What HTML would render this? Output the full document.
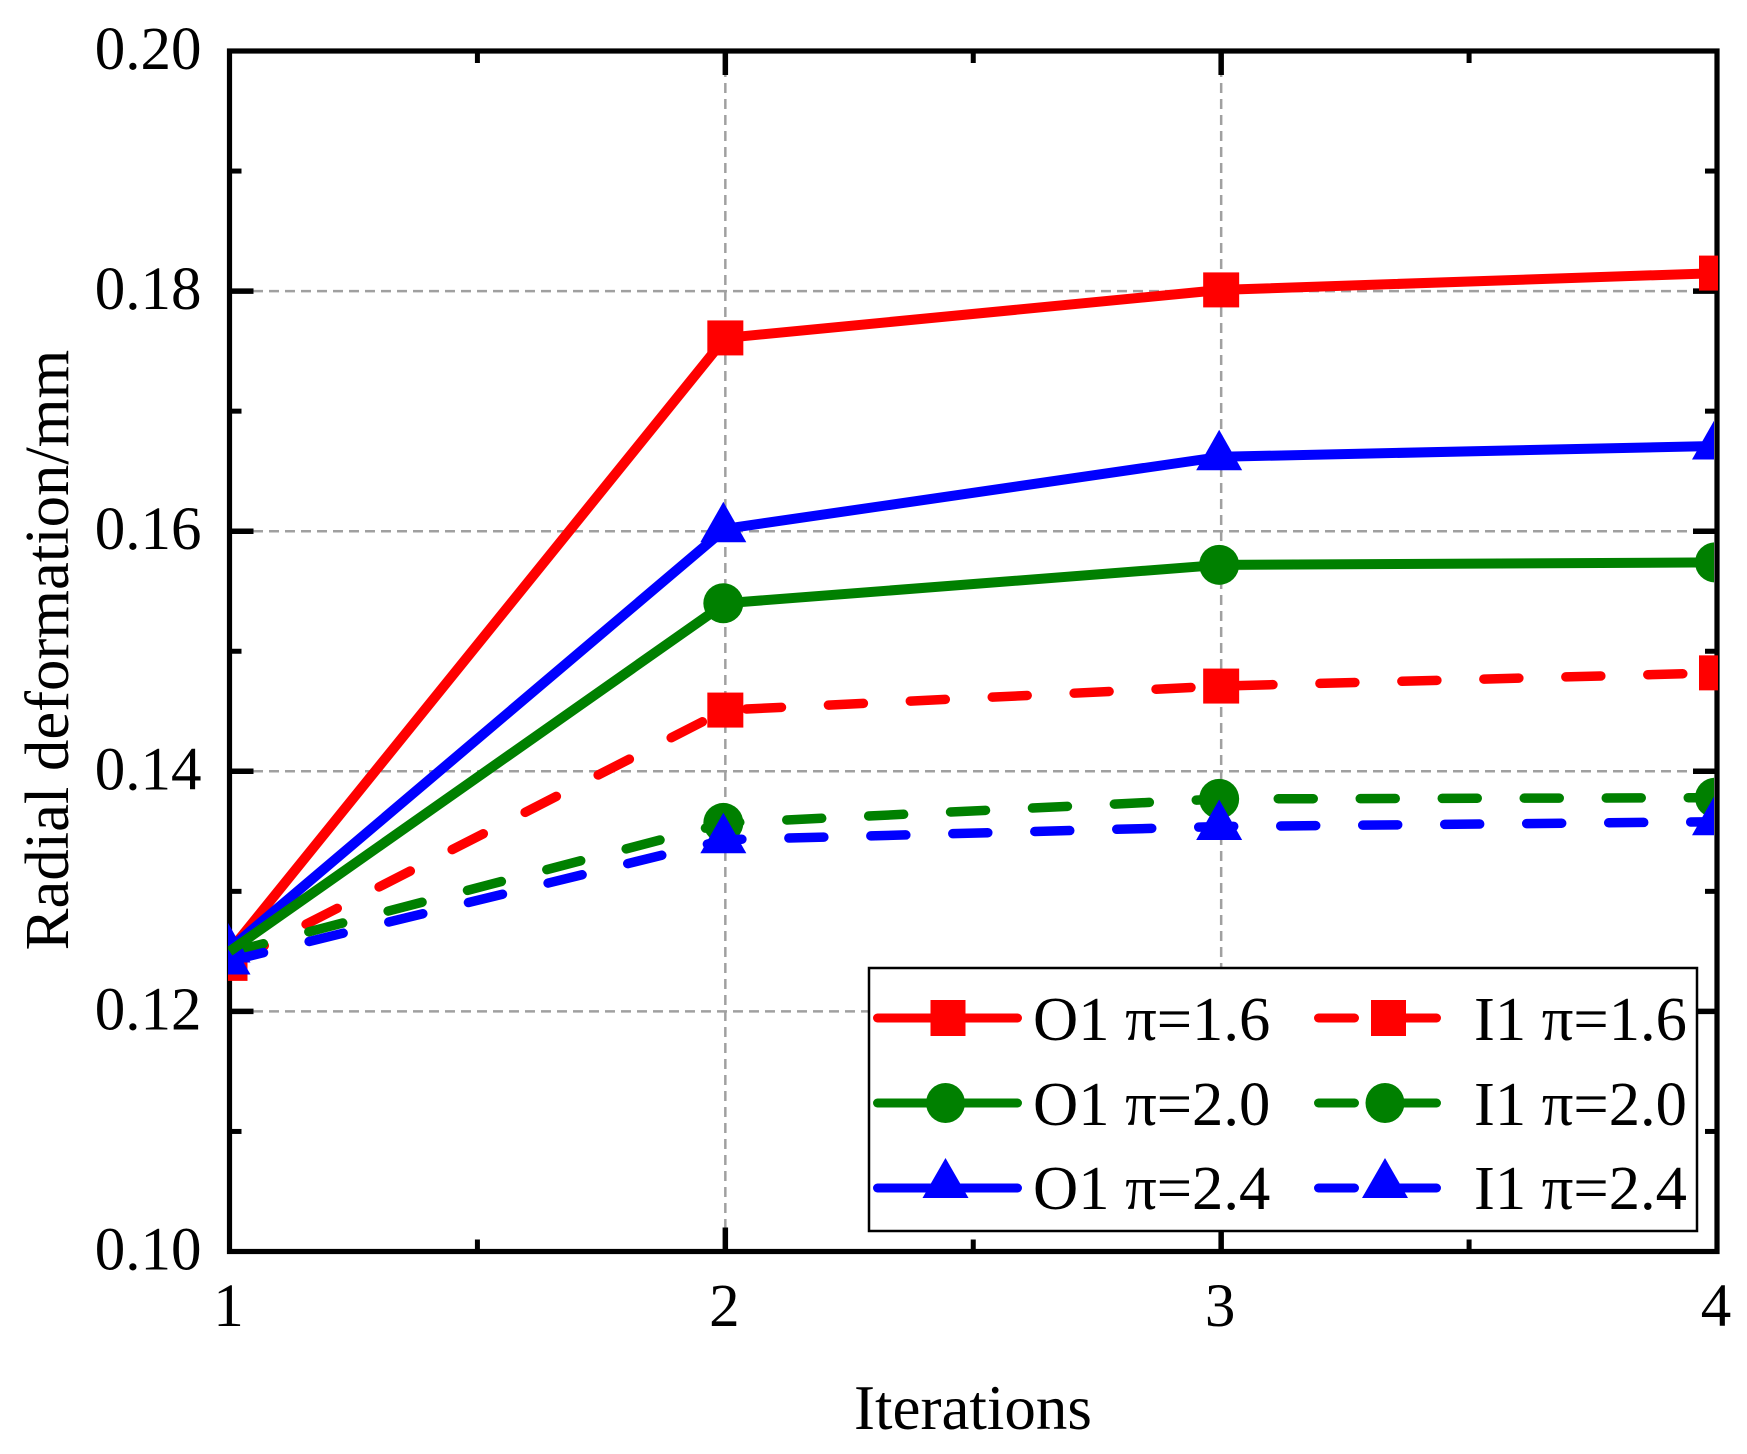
<!DOCTYPE html>
<html>
<head>
<meta charset="utf-8">
<style>
html,body{margin:0;padding:0;background:#fff;width:1747px;height:1454px;overflow:hidden}
svg{display:block}
text{font-family:"Liberation Serif",serif;fill:#000;font-size:61px}
.legend-label{font-size:62.6px}
</style>
</head>
<body>
<svg id="chart" xmlns="http://www.w3.org/2000/svg" width="1747" height="1454" viewBox="0 0 1747 1454">
  <defs>
    <clipPath id="clip-wide"><rect x="228" y="0" width="1490" height="1454"/></clipPath>
    <clipPath id="clip-inner"><rect x="228" y="0" width="1486" height="1454"/></clipPath>
  </defs>
  <g id="grid"></g>
  <rect x="229.5" y="51" width="1487.5" height="1200.5" fill="none" stroke="#000" stroke-width="5.2"/>
  <g id="ticks"></g>
  <g id="tick-labels"></g>
  <text x="973" y="1429" text-anchor="middle" style="font-size:63px">Iterations</text>
  <text x="68" y="650" text-anchor="middle" style="font-size:62.7px" transform="rotate(-90 68 650)">Radial deformation/mm</text>
  <g id="series"></g>

  <g>
    <rect x="869" y="968" width="828" height="263" fill="#fff" stroke="#000" stroke-width="2.5"/>

    <g>
      <line x1="877.5" y1="1018" x2="1017.5" y2="1018" stroke="#ff0000" stroke-width="9" stroke-linecap="round"/>
      <rect x="930.5" y="1000" width="35" height="36" fill="#ff0000"/>
      <text class="legend-label" x="1033" y="1040">O1 π=1.6</text>
    </g>
    <g>
      <line x1="877.5" y1="1103" x2="1017.5" y2="1103" stroke="#008000" stroke-width="9" stroke-linecap="round"/>
      <ellipse cx="945.5" cy="1103" rx="19.5" ry="20" fill="#008000"/>
      <text class="legend-label" x="1033" y="1125">O1 π=2.0</text>
    </g>
    <g>
      <line x1="877.5" y1="1188" x2="1017.5" y2="1188" stroke="#0000ff" stroke-width="9" stroke-linecap="round"/>
      <polygon points="945.5,1158 968.5,1198 922.5,1198" fill="#0000ff"/>
      <text class="legend-label" x="1033" y="1209">O1 π=2.4</text>
    </g>

    <g>
      <line x1="1318.5" y1="1018" x2="1354.5" y2="1018" stroke="#ff0000" stroke-width="9" stroke-linecap="round"/>
      <line x1="1388" y1="1018" x2="1436.5" y2="1018" stroke="#ff0000" stroke-width="9" stroke-linecap="round"/>
      <rect x="1371" y="1000" width="35" height="36" fill="#ff0000"/>
      <text class="legend-label" x="1474" y="1040">I1 π=1.6</text>
    </g>
    <g>
      <line x1="1318.5" y1="1103" x2="1354.5" y2="1103" stroke="#008000" stroke-width="9" stroke-linecap="round"/>
      <line x1="1388" y1="1103" x2="1436.5" y2="1103" stroke="#008000" stroke-width="9" stroke-linecap="round"/>
      <ellipse cx="1385" cy="1103" rx="19.5" ry="20" fill="#008000"/>
      <text class="legend-label" x="1474" y="1125">I1 π=2.0</text>
    </g>
    <g>
      <line x1="1318.5" y1="1188" x2="1354.5" y2="1188" stroke="#0000ff" stroke-width="9" stroke-linecap="round"/>
      <line x1="1388" y1="1188" x2="1436.5" y2="1188" stroke="#0000ff" stroke-width="9" stroke-linecap="round"/>
      <polygon points="1385,1158 1408,1198 1362,1198" fill="#0000ff"/>
      <text class="legend-label" x="1474" y="1209">I1 π=2.4</text>
    </g>
  </g>
</svg>
<script>
const iterations = [1, 2, 3, 4];
const o1Pi16 = [0.1250, 0.1761, 0.1801, 0.1815];
const o1Pi20 = [0.1250, 0.1540, 0.1572, 0.1574];
const o1Pi24 = [0.1252, 0.1602, 0.1662, 0.1671];
const i1Pi16 = [0.1240, 0.1451, 0.1471, 0.1482];
const i1Pi20 = [0.1249, 0.1357, 0.1377, 0.1378];
const i1Pi24 = [0.1242, 0.1343, 0.1354, 0.1358];
const xMajorTicks = [1, 2, 3, 4];
const xMinorTicks = [1.5, 2.5, 3.5];
const yMajorTicks = [0.10, 0.12, 0.14, 0.16, 0.18, 0.20];
const yMinorTicks = [0.11, 0.13, 0.15, 0.17, 0.19];
const yTickLabels = ['0.10', '0.12', '0.14', '0.16', '0.18', '0.20'];
const xTickLabels = ['1', '2', '3', '4'];

const NS = 'http://www.w3.org/2000/svg';
function xScale(v) { return 229.5 + (v - 1) / 3 * 1487.5; }
function yScale(v) { return 51 + (0.20 - v) / 0.10 * 1200.5; }

function make(tag, attrs, parent) {
  const el = document.createElementNS(NS, tag);
  for (const k in attrs) el.setAttribute(k, attrs[k]);
  parent.appendChild(el);
  return el;
}

const gridG = document.getElementById('grid');
const ticksG = document.getElementById('ticks');
const labelsG = document.getElementById('tick-labels');
const seriesG = document.getElementById('series');
const gridStyle = { stroke: '#a0a0a0', 'stroke-width': 2.5, 'stroke-dasharray': '10 6', fill: 'none' };

[2, 3].forEach(function (v) {
  const el = make('line', Object.assign({ x1: xScale(v), x2: xScale(v), y1: 51, y2: 1251 }, gridStyle), gridG);
  
  
});
[0.18, 0.16, 0.14, 0.12].forEach(function (v) {
  const el = make('line', Object.assign({ x1: 253, x2: 1717, y1: yScale(v), y2: yScale(v) }, gridStyle), gridG);
  
  
});

function xTick(v, len, width) {
  const x = xScale(v);
  const a = make('line', { x1: x, x2: x, y1: 1251.5, y2: 1251.5 - len, stroke: '#000', 'stroke-width': width }, ticksG);
  
  
  const b = make('line', { x1: x, x2: x, y1: 51, y2: 51 + len, stroke: '#000', 'stroke-width': width }, ticksG);
  
  
}
function yTick(v, len, width) {
  const y = yScale(v);
  const a = make('line', { x1: 229.5, x2: 229.5 + len, y1: y, y2: y, stroke: '#000', 'stroke-width': width }, ticksG);
  
  
  const b = make('line', { x1: 1717, x2: 1717 - len, y1: y, y2: y, stroke: '#000', 'stroke-width': width }, ticksG);
  
  
}
xMajorTicks.slice(1, 3).forEach(function (v) { xTick(v, 24, 5.5); });
xMinorTicks.forEach(function (v) { xTick(v, 12, 5); });
yMajorTicks.slice(1, 5).forEach(function (v) { yTick(v, 24, 5.5); });
yMinorTicks.forEach(function (v) { yTick(v, 12, 5); });

yMajorTicks.forEach(function (v, i) {
  const t = make('text', { x: 201.5, y: yScale(v) + 18, 'text-anchor': 'end' }, labelsG);
  t.textContent = yTickLabels[i];
  
  
});
xMajorTicks.forEach(function (v, i) {
  const t = make('text', { x: xScale(v) - 1, y: 1326, 'text-anchor': 'middle' }, labelsG);
  t.textContent = xTickLabels[i];
  
  
});

function drawLine(values, color, dashed, offset, name) {
  const pts = values.map(function (v, i) { return xScale(iterations[i]) + ',' + yScale(v); }).join(' ');
  const attrs = {
    points: pts, fill: 'none', stroke: color, 'stroke-width': dashed ? 9.5 : 10,
    'stroke-linejoin': 'round', 'clip-path': 'url(#clip-inner)'
  };
  if (dashed) {
    attrs['stroke-dasharray'] = '35 47';
    attrs['stroke-dashoffset'] = -offset;
    attrs['stroke-linecap'] = 'round';
  }
  const el = make('polyline', attrs, seriesG);
  
  
}

function drawMarkers(values, color, shape, skipFirst, name) {
  values.forEach(function (v, i) {
    if (skipFirst && i === 0) return;
    const x = xScale(iterations[i]);
    const y = yScale(v);
    let el;
    if (shape === 'square') {
      el = make('rect', { x: x - 18, y: y - 17.5, width: 36, height: 35, fill: color, 'clip-path': 'url(#clip-wide)' }, seriesG);
    } else if (shape === 'circle') {
      el = make('circle', { cx: x - 2, cy: y, r: 20, fill: color, 'clip-path': 'url(#clip-inner)' }, seriesG);
    } else {
      const cx = x - 2;
      el = make('polygon', {
        points: cx + ',' + (y - 27) + ' ' + (cx + 23) + ',' + (y + 13.5) + ' ' + (cx - 23) + ',' + (y + 13.5),
        fill: color, 'clip-path': 'url(#clip-inner)'
      }, seriesG);
    }
    
    
  });
}

drawLine(o1Pi16, '#ff0000', false, 0, 'line-o1-pi-1-6');
drawMarkers(o1Pi16, '#ff0000', 'square', true, 'marker-o1-pi-1-6');
drawLine(i1Pi16, '#ff0000', true, 4, 'line-i1-pi-1-6');
drawMarkers(i1Pi16, '#ff0000', 'square', false, 'marker-i1-pi-1-6');
drawLine(i1Pi20, '#008000', true, 0, 'line-i1-pi-2-0');
drawMarkers(o1Pi20, '#008000', 'circle', true, 'marker-o1-pi-2-0');
drawMarkers(i1Pi20, '#008000', 'circle', true, 'marker-i1-pi-2-0');
drawLine(o1Pi24, '#0000ff', false, 0, 'line-o1-pi-2-4');
drawLine(i1Pi24, '#0000ff', true, 0, 'line-i1-pi-2-4');
drawMarkers(o1Pi24, '#0000ff', 'triangle', false, 'marker-o1-pi-2-4');
drawMarkers(i1Pi24, '#0000ff', 'triangle', false, 'marker-i1-pi-2-4');
drawLine(o1Pi20, '#008000', false, 0, 'line-o1-pi-2-0');
</script>
</body>
</html>
